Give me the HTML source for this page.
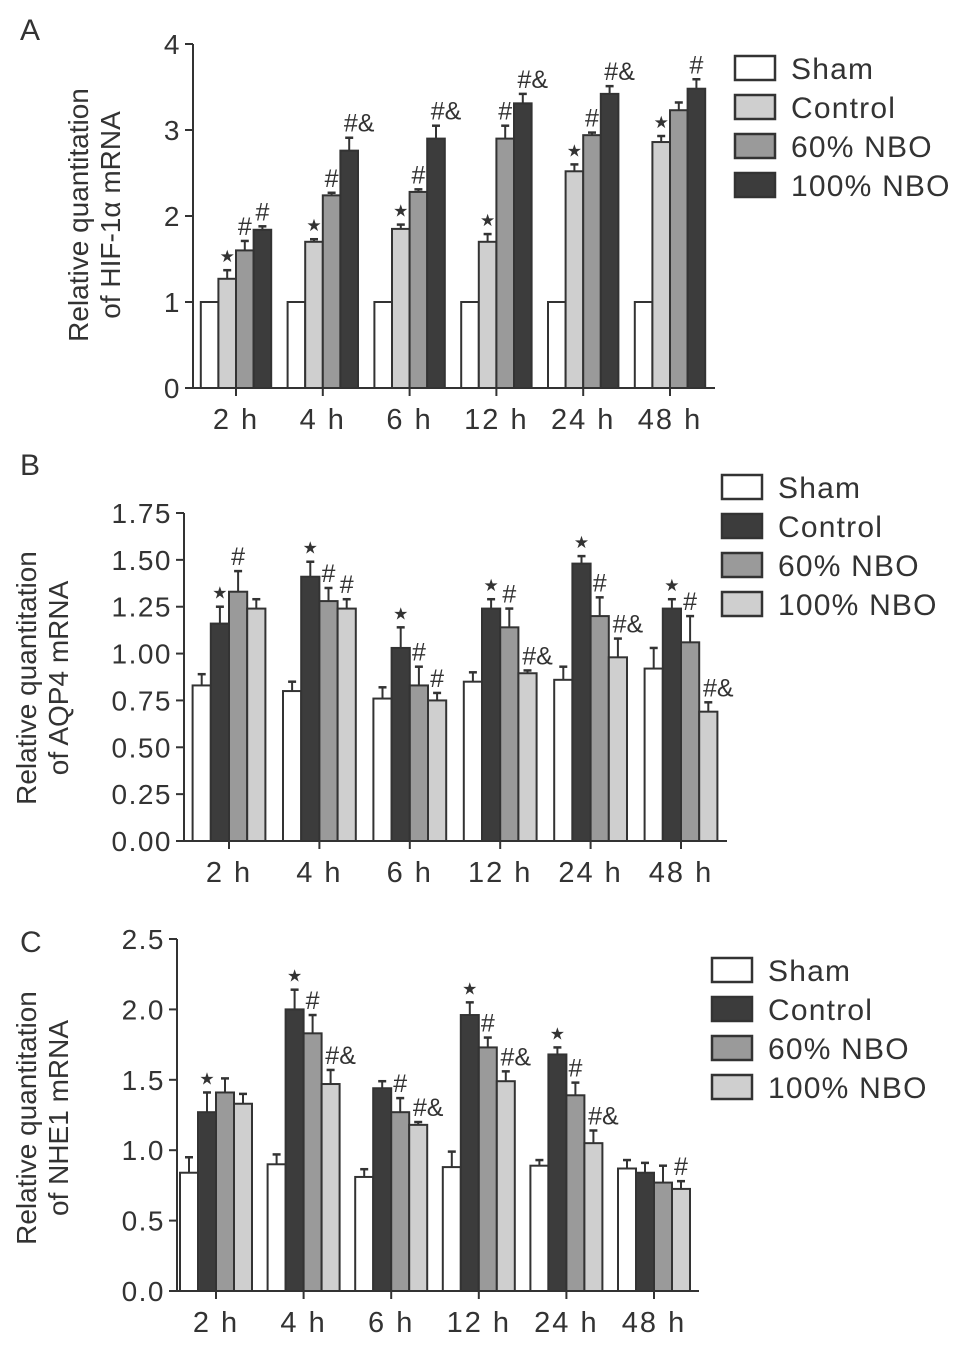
<!DOCTYPE html>
<html><head><meta charset="utf-8"><style>
body{margin:0;background:#fff}
svg{display:block}
text{font-family:"Liberation Sans",sans-serif;fill:#333}
</style></head><body>
<svg id="fig" width="969" height="1348" viewBox="0 0 969 1348" xmlns="http://www.w3.org/2000/svg"></svg>
<script>
const categories = ["2 h","4 h","6 h","12 h","24 h","48 h"];
const seriesNames = ["Sham","Control","60% NBO","100% NBO"];
// Panel A: HIF-1α
const aSham = [1,1,1,1,1,1];
const aControl = [1.27,1.70,1.85,1.70,2.52,2.86];
const a60 = [1.60,2.24,2.28,2.90,2.94,3.23];
const a100 = [1.84,2.76,2.90,3.31,3.42,3.48];
const aShamErr = [0,0,0,0,0,0];
const aControlErr = [0.10,0.03,0.05,0.09,0.08,0.07];
const a60Err = [0.11,0.03,0.03,0.15,0.03,0.09];
const a100Err = [0.04,0.15,0.15,0.11,0.09,0.11];
const aTicks = ["0","1","2","3","4"];
const aAnnot = [["","*","#","#"],["","*","#","#&"],["","*","#","#&"],["","*","#","#&"],["","*","#","#&"],["","*","","#"]];
// Panel B: AQP4
const bSham = [0.83,0.80,0.76,0.85,0.86,0.92];
const bControl = [1.16,1.41,1.03,1.24,1.48,1.24];
const b60 = [1.33,1.28,0.83,1.14,1.20,1.06];
const b100 = [1.24,1.24,0.75,0.895,0.98,0.69];
const bShamErr = [0.06,0.05,0.06,0.05,0.07,0.11];
const bControlErr = [0.09,0.08,0.11,0.05,0.04,0.05];
const b60Err = [0.11,0.07,0.10,0.10,0.10,0.14];
const b100Err = [0.05,0.05,0.04,0.015,0.10,0.05];
const bTicks = ["0.00","0.25","0.50","0.75","1.00","1.25","1.50","1.75"];
const bAnnot = [["","*","#",""],["","*","#","#"],["","*","#","#"],["","*","#","#&"],["","*","#","#&"],["","*","#","#&"]];
// Panel C: NHE1
const cSham = [0.84,0.90,0.81,0.88,0.89,0.87];
const cControl = [1.27,2.00,1.44,1.96,1.68,0.84];
const c60 = [1.41,1.83,1.27,1.73,1.39,0.77];
const c100 = [1.33,1.47,1.18,1.49,1.05,0.725];
const cShamErr = [0.11,0.07,0.055,0.11,0.04,0.06];
const cControlErr = [0.14,0.14,0.05,0.09,0.05,0.07];
const c60Err = [0.10,0.13,0.10,0.07,0.09,0.12];
const c100Err = [0.07,0.10,0.02,0.07,0.09,0.055];
const cTicks = ["0.0","0.5","1.0","1.5","2.0","2.5"];
const cAnnot = [["","*","",""],["","*","#","#&"],["","","#","#&"],["","*","#","#&"],["","*","#","#&"],["","","","#"]];

const NS="http://www.w3.org/2000/svg";
const svg=document.getElementById('fig');
function mk(tag,attrs,parent){const e=document.createElementNS(NS,tag);for(const k in attrs)e.setAttribute(k,attrs[k]);(parent||svg).appendChild(e);return e;}

function panel(cfg){
  const g=mk('g',{});
  
  
  const yMax=cfg.ticks[cfg.ticks.length-1]*1;
  const yS=v=>cfg.base-(v/yMax)*(cfg.base-cfg.top);
  const xC=i=>cfg.x0+i*cfg.step;
  const series=cfg.series, errs=cfg.errs;
  for(let i=0;i<categories.length;i++){
    for(let s=0;s<4;s++){
      const v=series[s][i], e=errs[s][i];
      const bx=xC(i)-2*cfg.bw+s*cfg.bw;
      const y=yS(v);
      if(e>0){
        const ey=yS(v+e), cx=bx+cfg.bw/2;
        const l=mk('line',{x1:cx,x2:cx,y1:y,y2:ey,stroke:'#333','stroke-width':2},g);
        
        
        mk('line',{x1:cx-4,x2:cx+4,y1:ey,y2:ey,stroke:'#333','stroke-width':2.5},g);
      }
      const r=mk('rect',{x:bx,y:y,width:cfg.bw,height:cfg.base-y,fill:cfg.colors[s],stroke:'#333','stroke-width':2},g);
      
      
      const a=cfg.annot[i][s];
      if(a){
        const t=mk('text',{x:bx+cfg.bw/2+(a.length>1?10:0),y:yS(v+e)-6,'text-anchor':'middle','font-size':25},g);
        
        
        if(a=='*'){t.textContent='★';t.setAttribute('font-size',17);t.setAttribute('y',yS(v+e)-8);}
        else t.textContent=a;
      }
    }
    mk('line',{x1:xC(i),x2:xC(i),y1:cfg.base,y2:cfg.base+8,stroke:'#333','stroke-width':2},g);
    const tl=mk('text',{x:xC(i),y:cfg.base+41,'text-anchor':'middle','font-size':29,'letter-spacing':2},g);
    
    
    tl.textContent=categories[i];
  }
  const ya=mk('line',{x1:cfg.ax,x2:cfg.ax,y1:cfg.top,y2:cfg.base,stroke:'#333','stroke-width':2},g);
  
  
  const xa=mk('line',{x1:cfg.ax-7,x2:cfg.axEnd,y1:cfg.base,y2:cfg.base,stroke:'#333','stroke-width':2},g);
  
  
  cfg.ticks.forEach(t=>{
    const y=yS(t*1);
    mk('line',{x1:cfg.ax-8,x2:cfg.ax,y1:y,y2:y,stroke:'#333','stroke-width':2},g);
    const tx=mk('text',{x:cfg.ax-12,y:y+10,'text-anchor':'end','font-size':28,'letter-spacing':1.5},g);
    
    
    tx.textContent=t;
  });
  const yt=mk('text',{transform:`translate(${cfg.titleX},${cfg.titleY}) rotate(-90)`,'text-anchor':'middle','font-size':28},g);
  
  
  const t1=mk('tspan',{x:0,y:0},yt);t1.textContent='Relative quantitation';
  const t2=mk('tspan',{x:0,y:32},yt);t2.textContent=cfg.title;
  const pl=mk('text',{x:cfg.letterX,y:cfg.letterY,'font-size':30},g);
  
  
  pl.textContent=cfg.id;
  for(let s=0;s<4;s++){
    const ly=cfg.legY+s*39;
    const lg=mk('g',{},g);
    
    
    mk('rect',{x:cfg.legX,y:ly-12,width:40,height:24,fill:cfg.colors[s],stroke:'#333','stroke-width':2.5},lg);
    const lt=mk('text',{x:cfg.legX+56,y:ly+11,'font-size':30,'letter-spacing':1.2},lg);
    lt.textContent=seriesNames[s];
  }
}
panel({id:'A',series:[aSham,aControl,a60,a100],errs:[aShamErr,aControlErr,a60Err,a100Err],ticks:aTicks,annot:aAnnot,
  colors:['#fff','#cfcfcf','#9a9a9a','#3c3c3c'],base:388,top:44,ax:193,axEnd:715,x0:236,step:86.8,bw:17.6,
  title:'of HIF-1α mRNA',titleX:88,titleY:215,letterX:20,letterY:40,legX:735,legY:68});
panel({id:'B',series:[bSham,bControl,b60,b100],errs:[bShamErr,bControlErr,b60Err,b100Err],ticks:bTicks,annot:bAnnot,
  colors:['#fff','#3c3c3c','#9a9a9a','#cfcfcf'],base:841,top:513,ax:184,axEnd:727,x0:229,step:90.4,bw:18.2,
  title:'of AQP4 mRNA',titleX:36,titleY:678,letterX:20,letterY:475,legX:722,legY:487});
panel({id:'C',series:[cSham,cControl,c60,c100],errs:[cShamErr,cControlErr,c60Err,c100Err],ticks:cTicks,annot:cAnnot,
  colors:['#fff','#3c3c3c','#9a9a9a','#cfcfcf'],base:1291,top:939,ax:177,axEnd:699,x0:216,step:87.6,bw:18,
  title:'of NHE1 mRNA',titleX:36,titleY:1118,letterX:20,letterY:952,legX:712,legY:970});
</script>
</body></html>
